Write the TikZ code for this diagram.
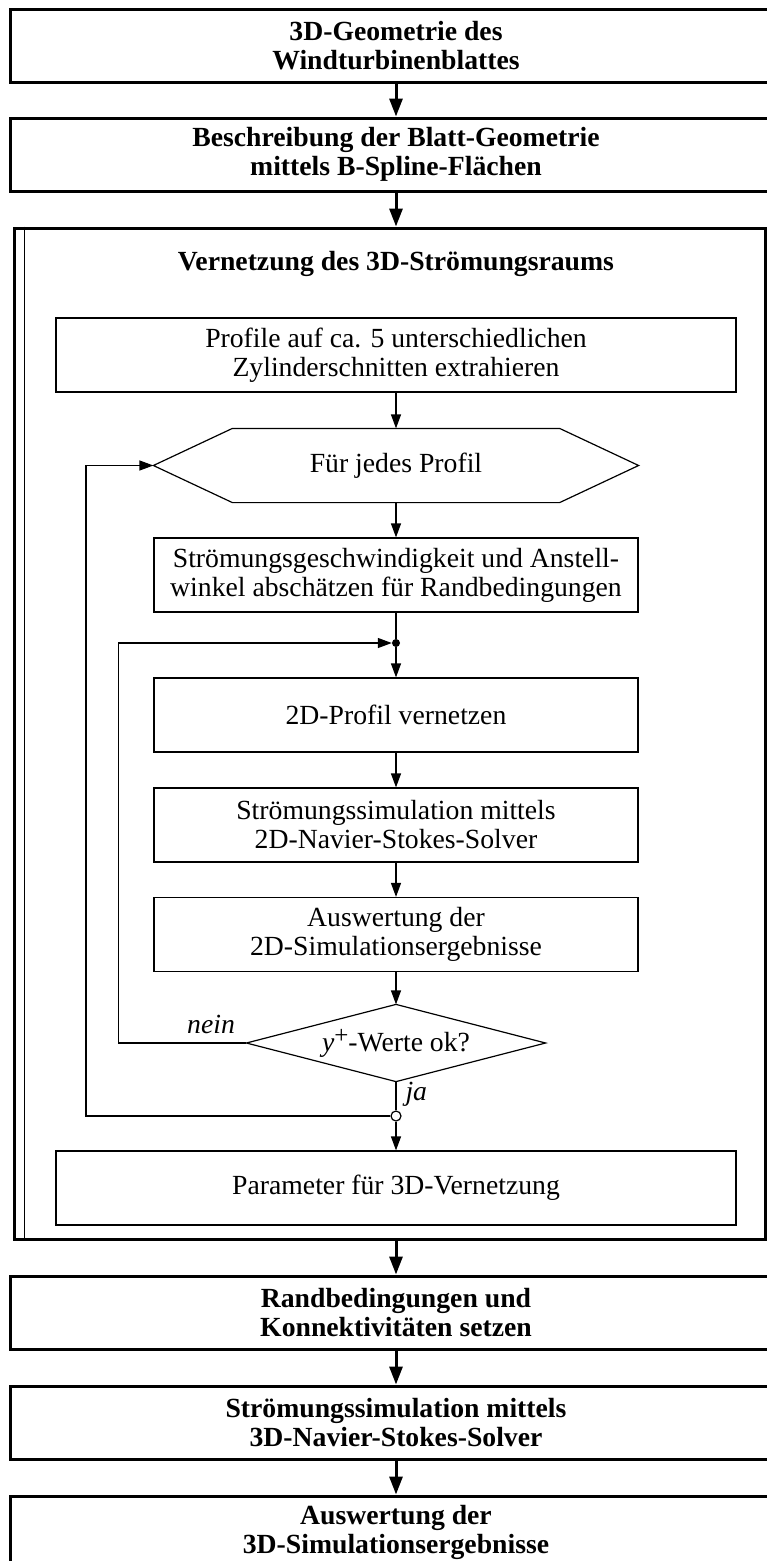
\documentclass[tikz,border=0pt]{standalone}
\usepackage{fontspec}
\setmainfont{Liberation Serif}
\usepackage{tikz}
\usetikzlibrary{arrows.meta, calc}

\newcommand{\boxfont}{\fontsize{27.7pt}{29pt}\selectfont}
\newcommand{\plusmark}{\raisebox{8pt}{\fontsize{25pt}{25pt}\selectfont +}}

\tikzset{
  mainbox/.style={draw, line width=3pt, minimum width=772pt, minimum height=73pt,
    inner sep=0pt, align=center, font=\boxfont\bfseries},
  stepbox/.style={draw, line width=1.2pt, minimum width=484pt, minimum height=74pt,
    inner sep=0pt, align=center, font=\boxfont},
  widebox/.style={stepbox, minimum width=680pt},
  bigarrow/.style={line width=3pt, -{Triangle[length=18pt,width=13pt]}},
  smallarrow/.style={line width=1.2pt, -{Triangle[length=14pt,width=10pt]}},
  smallline/.style={line width=1.2pt},
  answer/.style={font=\boxfont\itshape}
}

\begin{document}
\begin{tikzpicture}[x=1pt, y=-1pt]
% Picture frame (pixel units, y downwards)
\useasboundingbox (0,0) rectangle (766,1561);

% Axis of the flow chart
\def\midX{396}

% Upper blocks
\node[mainbox] (geo) at (\midX,45.5) {3D-Geometrie des\\Windturbinenblattes};
\node[mainbox] (spline) at (\midX,154.5) {Beschreibung der Blatt-Geometrie\\mittels B-Spline-Flächen};

% Frame of the meshing block
\node[draw, line width=3pt, minimum width=751pt, minimum height=1011pt, inner sep=0pt] (mesh) at (389.5,733.5) {};
\draw[smallline] ([xshift=12pt]mesh.north west) -- ([xshift=12pt]mesh.south west);
\node[font=\boxfont\bfseries] (title) at (\midX,264) {Vernetzung des 3D-Strömungsraums};

% Steps inside the meshing block
\node[widebox] (prof) at (\midX,355) {Profile auf ca. 5 unterschiedlichen\\Zylinderschnitten extrahieren};
\node[stepbox, draw=none, minimum height=73pt] (each) at (\midX,465.5) {Für jedes Profil};
\draw[smallline] (each.west) -- ([xshift=79pt]each.north west) -- ([xshift=-79pt]each.north east)
  -- (each.east) -- ([xshift=-79pt]each.south east) -- ([xshift=79pt]each.south west) -- cycle;
\node[stepbox] (est) at (\midX,575) {Strömungsgeschwindigkeit und Anstell-\\winkel abschätzen für Randbedingungen};
\node[circle, fill, inner sep=0pt, minimum size=8pt] (jn) at (\midX,643) {};
\node[stepbox] (m2d) at (\midX,715) {2D-Profil vernetzen};
\node[stepbox] (sim2d) at (\midX,825) {Strömungssimulation mittels\\2D-Navier-Stokes-Solver};
\node[stepbox] (res2d) at (\midX,934.5) {Auswertung der\\2D-Simulationsergebnisse};
\node[stepbox, draw=none, minimum width=298pt, minimum height=76pt] (chk) at (\midX,1043) {\textit{y}\plusmark-Werte ok?};
\draw[smallline] (chk.west) -- (chk.north) -- (chk.east) -- (chk.south) -- cycle;
\node[circle, draw, fill=white, line width=1.2pt, inner sep=0pt, minimum size=10pt] (jo) at (\midX,1116) {};
\node[widebox] (par) at (\midX,1188) {Parameter für 3D-Vernetzung};

% Lower blocks
\node[mainbox] (rand) at (\midX,1312.5) {Randbedingungen und\\Konnektivitäten setzen};
\node[mainbox] (sim3d) at (\midX,1422.5) {Strömungssimulation mittels\\3D-Navier-Stokes-Solver};
\node[mainbox] (res3d) at (\midX,1532.5) {Auswertung der\\3D-Simulationsergebnisse};

% Main arrows
\draw[bigarrow] (geo) -- (spline);
\draw[bigarrow] (spline) -- (spline |- mesh.north);
\draw[bigarrow] (mesh.south -| rand) -- (rand);
\draw[bigarrow] (rand) -- (sim3d);
\draw[bigarrow] (sim3d) -- (res3d);

% Arrows inside
\draw[smallarrow] (prof) -- (each);
\draw[smallarrow] (each) -- (est);
\draw[smallline] (est) -- (jn);
\draw[smallarrow] (jn) -- (m2d);
\draw[smallarrow] (m2d) -- (sim2d);
\draw[smallarrow] (sim2d) -- (res2d);
\draw[smallarrow] (res2d) -- (chk);
\draw[smallline] (chk) -- (jo);
\draw[smallarrow] (jo) -- (par);

% Loops back
\draw[smallarrow] (chk.west) -- ++(-128,0) |- (jn);
\draw[smallarrow] (jo) -- ++(-310,0) |- (each.west);
\node[answer, anchor=base east] (nein) at ([xshift=-8pt,yshift=10pt]chk.west) {nein};
\node[answer, anchor=base west] (ja) at ([xshift=6pt,yshift=-19pt]chk.south) {ja};
\end{tikzpicture}
\end{document}
